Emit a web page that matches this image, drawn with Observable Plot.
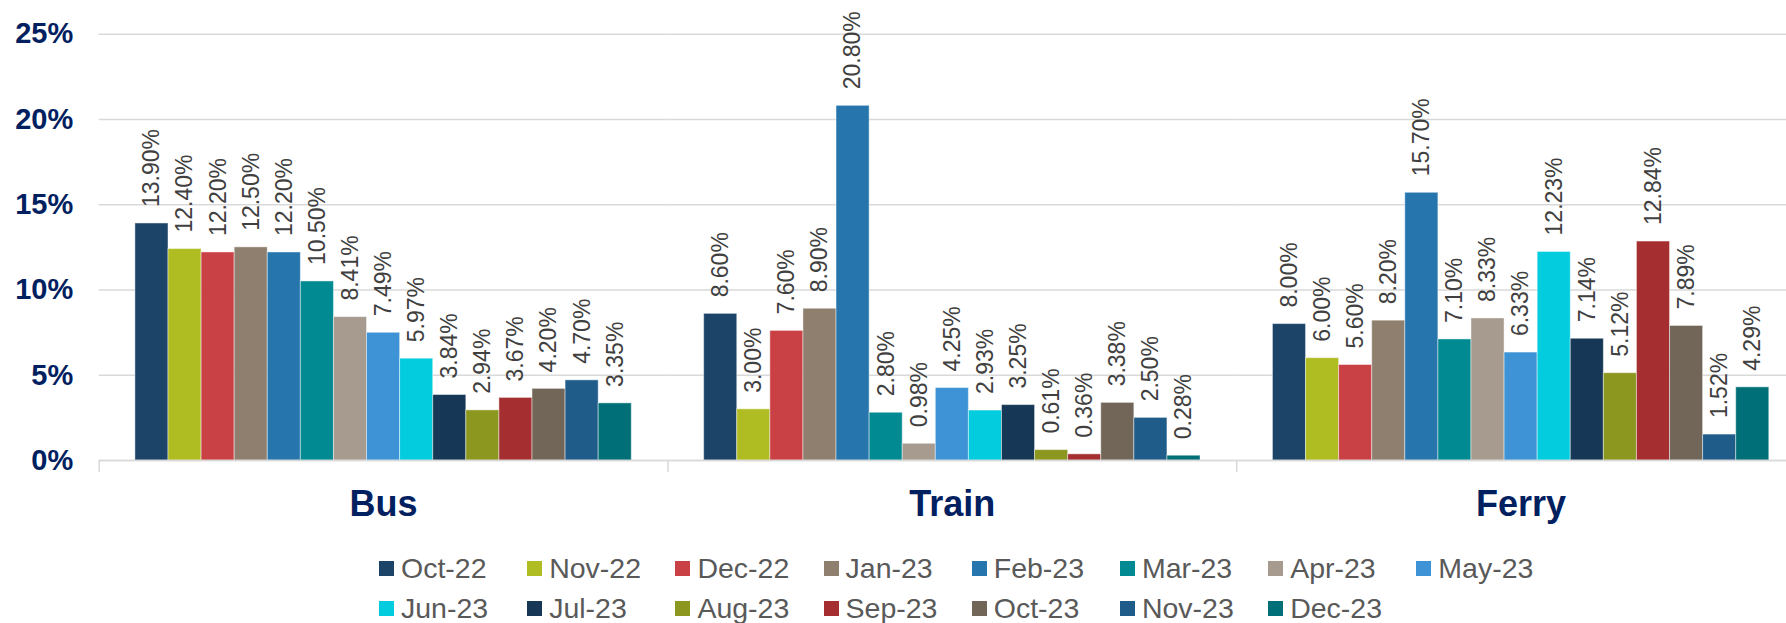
<!DOCTYPE html>
<html>
<head>
<meta charset="utf-8">
<script src="https://cdn.jsdelivr.net/npm/d3@7"></script>
<script src="https://cdn.jsdelivr.net/npm/@observablehq/plot@0.6"></script>
<style>
  html, body { margin: 0; padding: 0; background: #fff; overflow: hidden; }
  body { width: 1786px; height: 623px; font-family: "Liberation Sans", Arial, sans-serif; }
  #chart svg { max-width: none !important; display: block; }
  #legend { padding-top: 8px; }
  #legend .lg-swatches { margin: 0 0 0 379px !important; width: 1300px; min-height: 0 !important;
    font: 28.5px "Liberation Sans", Arial, sans-serif !important; color: #595959 !important; }
  #legend .lg-swatch { width: 148.2px; height: 40px; margin: 0 !important; display: inline-flex; align-items: center; }
  #legend .lg-swatch > svg { margin-right: 7px !important; }
</style>
</head>
<body>
<div id="chart"></div>
<div id="legend"></div>
<script>
const modes = ["Bus", "Train", "Ferry"];
const months = ["Oct-22","Nov-22","Dec-22","Jan-23","Feb-23","Mar-23","Apr-23","May-23","Jun-23","Jul-23","Aug-23","Sep-23","Oct-23","Nov-23","Dec-23"];
const colors = ["#1B4468","#AFBD22","#C94144","#8F7F6E","#2675AD","#028A93","#A69B8E","#3D93D5","#03CCDE","#163755","#8C971F","#A52E31","#726659","#1F5C8A","#006F77"];
const busValues   = [13.90, 12.40, 12.20, 12.50, 12.20, 10.50, 8.41, 7.49, 5.97, 3.84, 2.94, 3.67, 4.20, 4.70, 3.35];
const trainValues = [8.60, 3.00, 7.60, 8.90, 20.80, 2.80, 0.98, 4.25, 2.93, 3.25, 0.61, 0.36, 3.38, 2.50, 0.28];
const ferryValues = [8.00, 6.00, 5.60, 8.20, 15.70, 7.10, 8.33, 6.33, 12.23, 7.14, 5.12, 12.84, 7.89, 1.52, 4.29];
const yTicks = [0, 5, 10, 15, 20, 25];

const seriesByMode = {Bus: busValues, Train: trainValues, Ferry: ferryValues};
const rows = modes.flatMap(mode => months.map((month, i) => ({mode, month, value: seriesByMode[mode][i]})));

const W = 1805, H = 540, mL = 98.7, mR = 0, mT = 33.7, mB = 80;
const pO = 1.094;
const facetW = (W - mL - mR) / modes.length;
const step = facetW / (months.length + 2 * pO);
const navy = "#002060";
const grid = "#d9d9d9";

const chart = Plot.plot({
  width: W, height: H,
  marginLeft: mL, marginRight: mR, marginTop: mT, marginBottom: mB,
  style: {fontFamily: '"Liberation Sans", Arial, sans-serif', background: "#fff", maxWidth: "none", overflow: "visible"},
  fx: {domain: modes, padding: 0, round: false},
  x: {domain: months, paddingInner: 0, paddingOuter: pO, round: false, axis: null},
  y: {domain: [0, 25], label: null},
  color: {domain: months, range: colors},
  marks: [
    Plot.gridY(yTicks, {stroke: grid, strokeOpacity: 1, strokeWidth: 1.5}),
    Plot.axisY({ticks: yTicks, tickFormat: d => d + "%", tickSize: 0, tickPadding: 26,
      fontSize: 29, fontWeight: "bold", color: navy, label: null}),
    Plot.axisFx({anchor: "bottom", tickSize: 0, tickPadding: 30, fontSize: 36, fontWeight: "bold",
      color: navy, label: null}),
    Plot.barY(rows, {fx: "mode", x: "month", y: "value", fill: "month",
      stroke: "#ffffff", strokeOpacity: 0.45, strokeWidth: 1}),
    Plot.ruleY([0], {stroke: grid, strokeWidth: 1.5}),
    Plot.ruleX(modes, {fx: d => d, x: () => months[0], dx: -(pO + 0.5) * step,
      y1: 0, y2: 0, insetBottom: -12, stroke: grid, strokeWidth: 1.5}),
    Plot.text(rows, {fx: "mode", x: "month", y: "value", text: d => d.value.toFixed(2) + "%",
      rotate: -90, textAnchor: "start", lineAnchor: "middle", dy: -16.5,
      fontSize: 23, fill: "#404040"})
  ]
});
document.getElementById("chart").appendChild(chart);

const legend = Plot.legend({
  color: {domain: months, range: colors},
  legend: "swatches", swatchSize: 15, className: "lg"
});
document.getElementById("legend").appendChild(legend);
</script>
</body>
</html>
